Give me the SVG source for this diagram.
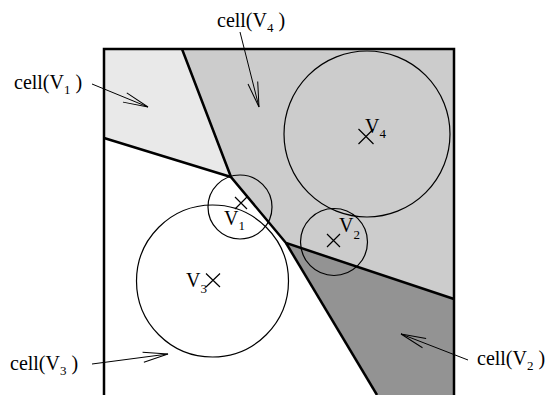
<svg xmlns="http://www.w3.org/2000/svg" width="545" height="395" viewBox="0 0 545 395">
<style>
  .cut { stroke: #000; stroke-width: 2.5; fill: none; stroke-linejoin: miter; }
  .circ { stroke: #000; stroke-width: 1.2; fill: none; }
  .x { stroke: #000; stroke-width: 1.2; }
  .lbl { font-family: "Liberation Serif", "Times New Roman", serif; font-size: 20px; fill: #000; }
  .sub { font-size: 13px; }
  .arr { stroke: #000; stroke-width: 1; fill: none; marker-end: url(#open); }
</style>
<defs>
  <marker id="open" viewBox="-27 -7 29 14" markerWidth="29" markerHeight="14" refX="0" refY="0" markerUnits="userSpaceOnUse" orient="auto">
    <path d="M-25,-5 L0,0 L-25,5" fill="none" stroke="#000" stroke-width="1"/>
  </marker>
</defs>
<rect x="0" y="0" width="545" height="395" fill="#fff"/>

<g id="cells">
  <polygon id="cell-v1" points="104,49 182,49 231,177 104,138" fill="#e9e9e9"/>
  <polygon id="cell-v4" points="182,49 454,49 454,299 286,243 231,177" fill="#cccccc"/>
  <polygon id="cell-v2" points="286,243 454,299 454,395 377,395" fill="#939393"/>
</g>

<g id="node-v4">
  <circle class="circ" cx="367" cy="134" r="83"/>
  <path class="x" d="M358.5,129 L373.5,144 M358.5,144 L373.5,129"/>
  <text class="lbl" x="365" y="133">V<tspan class="sub" dy="5">4</tspan></text>
</g>
<g id="node-v1">
  <circle class="circ" cx="240" cy="207" r="32"/>
  <path class="x" d="M235,197 L247,209 M235,209 L247,197"/>
  <text class="lbl" x="224" y="225">V<tspan class="sub" dy="5">1</tspan></text>
</g>
<g id="node-v2">
  <circle class="circ" cx="334" cy="242" r="33.5"/>
  <path class="x" d="M327,234 L340,247 M327,247 L340,234"/>
  <text class="lbl" x="339" y="232">V<tspan class="sub" dy="7">2</tspan></text>
</g>
<g id="node-v3">
  <circle class="circ" cx="212.5" cy="281" r="76"/>
  <path class="x" d="M206,273.5 L220,287 M206,287 L220,273.5"/>
  <text class="lbl" x="186" y="287">V<tspan class="sub" dy="6">3</tspan></text>
</g>

<g id="boundaries">
  <polyline class="cut" points="104,138 231,177"/>
  <polyline class="cut" points="182,49 231,177 286,243 454,299"/>
  <polyline class="cut" points="286,243 377,395"/>
  <path class="cut" d="M104,395 V49 H454 V395"/>
</g>

<g id="connectors">
  <line class="arr" x1="92" y1="84" x2="148" y2="107"/>
  <line class="arr" x1="240" y1="32" x2="259" y2="107"/>
  <line class="arr" x1="92" y1="364" x2="168" y2="354"/>
  <line class="arr" x1="468" y1="360" x2="401" y2="334"/>
</g>

<g id="labels">
  <text class="lbl" x="14" y="89">cell(V<tspan class="sub" dy="5">1</tspan><tspan dy="-5"> )</tspan></text>
  <text class="lbl" x="217" y="27">cell(V<tspan class="sub" dy="5">4</tspan><tspan dy="-5"> )</tspan></text>
  <text class="lbl" x="10" y="370">cell(V<tspan class="sub" dy="5">3</tspan><tspan dy="-5"> )</tspan></text>
  <text class="lbl" x="477" y="365">cell(V<tspan class="sub" dy="5">2</tspan><tspan dy="-5"> )</tspan></text>
</g>
</svg>
